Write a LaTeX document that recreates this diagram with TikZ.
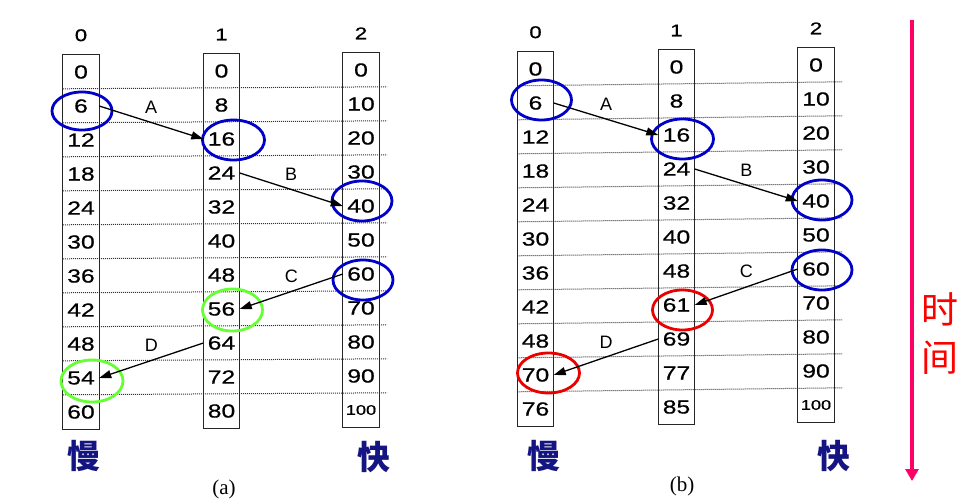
\documentclass[tikz,border=0pt]{standalone}
\usepackage{fontspec}
\setmainfont{Liberation Sans}
\newfontfamily\numfont[FakeStretch=1.3,FakeBold=0.6]{Liberation Sans}
\newfontfamily\capfont{Liberation Serif}
\newfontfamily\cjk{Noto Sans CJK SC}
\usetikzlibrary{positioning,arrows.meta}

\definecolor{ringblue}{RGB}{0,0,200}
\definecolor{ringgreen}{RGB}{102,255,51}
\definecolor{ringred}{RGB}{235,0,0}
\definecolor{speednavy}{RGB}{20,20,130}
\definecolor{timepink}{RGB}{255,0,102}

\tikzset{
  cell/.style={minimum width=36pt, minimum height=34pt, inner sep=0pt,
    font=\numfont\fontsize{19}{19}\selectfont},
  collabel/.style={font=\numfont\fontsize{17}{17}\selectfont},
  colbox/.style={draw=black!85, line width=1.3pt},
  rowline/.style={densely dotted, draw=black!80, line width=1pt},
  ring/.style={draw=#1, line width=2.8pt},
  jump/.style={line width=1.3pt, -{Triangle[length=12pt,width=8pt]}},
  steplabel/.style={midway, above=5pt, font=\fontsize{18}{18}\selectfont},
  speed/.style={text=speednavy, font=\cjk\bfseries\fontsize{33}{33}\selectfont},
  panel/.style={font=\capfont\fontsize{21}{21}\selectfont},
  timeline/.style={draw=timepink, line width=3.5pt, -{Triangle[length=12pt,width=13pt]}}
}

\begin{document}
\begin{tikzpicture}[x=1pt,y=-1pt]
    \path[fill=white] (0,0) rectangle (970,500);
    \useasboundingbox (0,0) rectangle (970,500);

    % (a)
    \foreach \v [count=\k from 0] in {0,6,12,18,24,30,36,42,48,54,60}
        \node[cell] (a0-\k) at (81,72+34*\k) {\v};
    \foreach \v [count=\k from 0] in {0,8,16,24,32,40,48,56,64,72,80}
        \node[cell] (a1-\k) at (221.5,71+34*\k) {\v};
    \foreach \v [count=\k from 0] in {0,10,20,30,40,50,60,70,80,90,{\fontsize{14}{14}\selectfont 100}}
        \node[cell] (a2-\k) at (361,70+34*\k) {\v};

    \foreach \k in {1,...,10}
        \draw[rowline] (a0-\k.north west) -- ([xshift=8pt]a2-\k.north east);
    \foreach \c in {0,1,2}
        \draw[colbox] (a\c-0.north west) rectangle (a\c-10.south east);

    \node[collabel, above=10pt of a0-0] (a0-n) {0};
    \node[collabel, above=10pt of a1-0] (a1-n) {1};
    \node[collabel, above=10pt of a2-0] (a2-n) {2};

    \draw[ring=ringblue]  (a0-1) ++(1,5)  ellipse (30 and 19);
    \draw[ring=ringblue]  (a1-2) ++(12,1) ellipse (31 and 20);
    \draw[ring=ringblue]  (a2-4) ++(1,-5) ellipse (30 and 20);
    \draw[ring=ringblue]  (a2-6) ++(2,6)  ellipse (30 and 20);
    \draw[ring=ringgreen] (a1-7) ++(11,1) ellipse (30 and 21);
    \draw[ring=ringgreen] (a0-9) ++(11,3) ellipse (31 and 21);

    \draw[jump] (a0-1.east) -- node[steplabel] {A} (a1-2.west);
    \draw[jump] (a1-3.east) -- node[steplabel] {B} (a2-4.west);
    \draw[jump] (a2-6.west) -- node[steplabel] {C} (a1-7.east);
    \draw[jump] (a1-8.west) -- node[steplabel] {D} (a0-9.east);

    \node[speed] (a-slow) at (84,456) {慢};
    \node[speed] (a-fast) at (374,457) {快};
    \node[panel] (a-cap) at (224,489) {(a)};

    % (b)
    \foreach \v [count=\k from 0] in {0,6,12,18,24,30,36,42,48,70,76}
        \node[cell] (b0-\k) at (535.5,69+34*\k) {\v};
    \foreach \v [count=\k from 0] in {0,8,16,24,32,40,48,61,69,77,85}
        \node[cell] (b1-\k) at (676.5,67+34*\k) {\v};
    \foreach \v [count=\k from 0] in {0,10,20,30,40,50,60,70,80,90,{\fontsize{14}{14}\selectfont 100}}
        \node[cell] (b2-\k) at (816,65+34*\k) {\v};

    \foreach \k in {1,...,10}
        \draw[rowline] (b0-\k.north west) -- ([xshift=8pt]b2-\k.north east);
    \foreach \c in {0,1,2}
        \draw[colbox] (b\c-0.north west) rectangle (b\c-10.south east);

    \node[collabel, above=10pt of b0-0] (b0-n) {0};
    \node[collabel, above=10pt of b1-0] (b1-n) {1};
    \node[collabel, above=10pt of b2-0] (b2-n) {2};

    \draw[ring=ringblue] (b0-1) ++(6,-3)  ellipse (30 and 20);
    \draw[ring=ringblue] (b1-2) ++(6,4)   ellipse (31 and 20);
    \draw[ring=ringblue] (b2-4) ++(6,-1)  ellipse (30 and 20);
    \draw[ring=ringblue] (b2-6) ++(6,1)   ellipse (30 and 20);
    \draw[ring=ringred]  (b1-7) ++(6,5)   ellipse (30 and 20);
    \draw[ring=ringred]  (b0-9) ++(13,-2) ellipse (31 and 20);

    \draw[jump] (b0-1.east) -- node[steplabel] {A} (b1-2.west);
    \draw[jump] (b1-3.east) -- node[steplabel] {B} (b2-4.west);
    \draw[jump] (b2-6.west) -- node[steplabel] {C} (b1-7.east);
    \draw[jump] (b1-8.west) -- node[steplabel] {D} (b0-9.east);

    \node[speed] (b-slow) at (544,456) {慢};
    \node[speed] (b-fast) at (834,456) {快};
    \node[panel] (b-cap) at (682,486) {(b)};

    % time
    \coordinate (t-top) at (912,20);
    \coordinate (t-end) at (912,481);
    \draw[timeline] (t-top) -- (t-end);
    \node[text=red, align=center, font=\cjk\fontsize{37}{48}\selectfont] (t-text) at (940,334) {时\\间};

\end{tikzpicture}
\end{document}
